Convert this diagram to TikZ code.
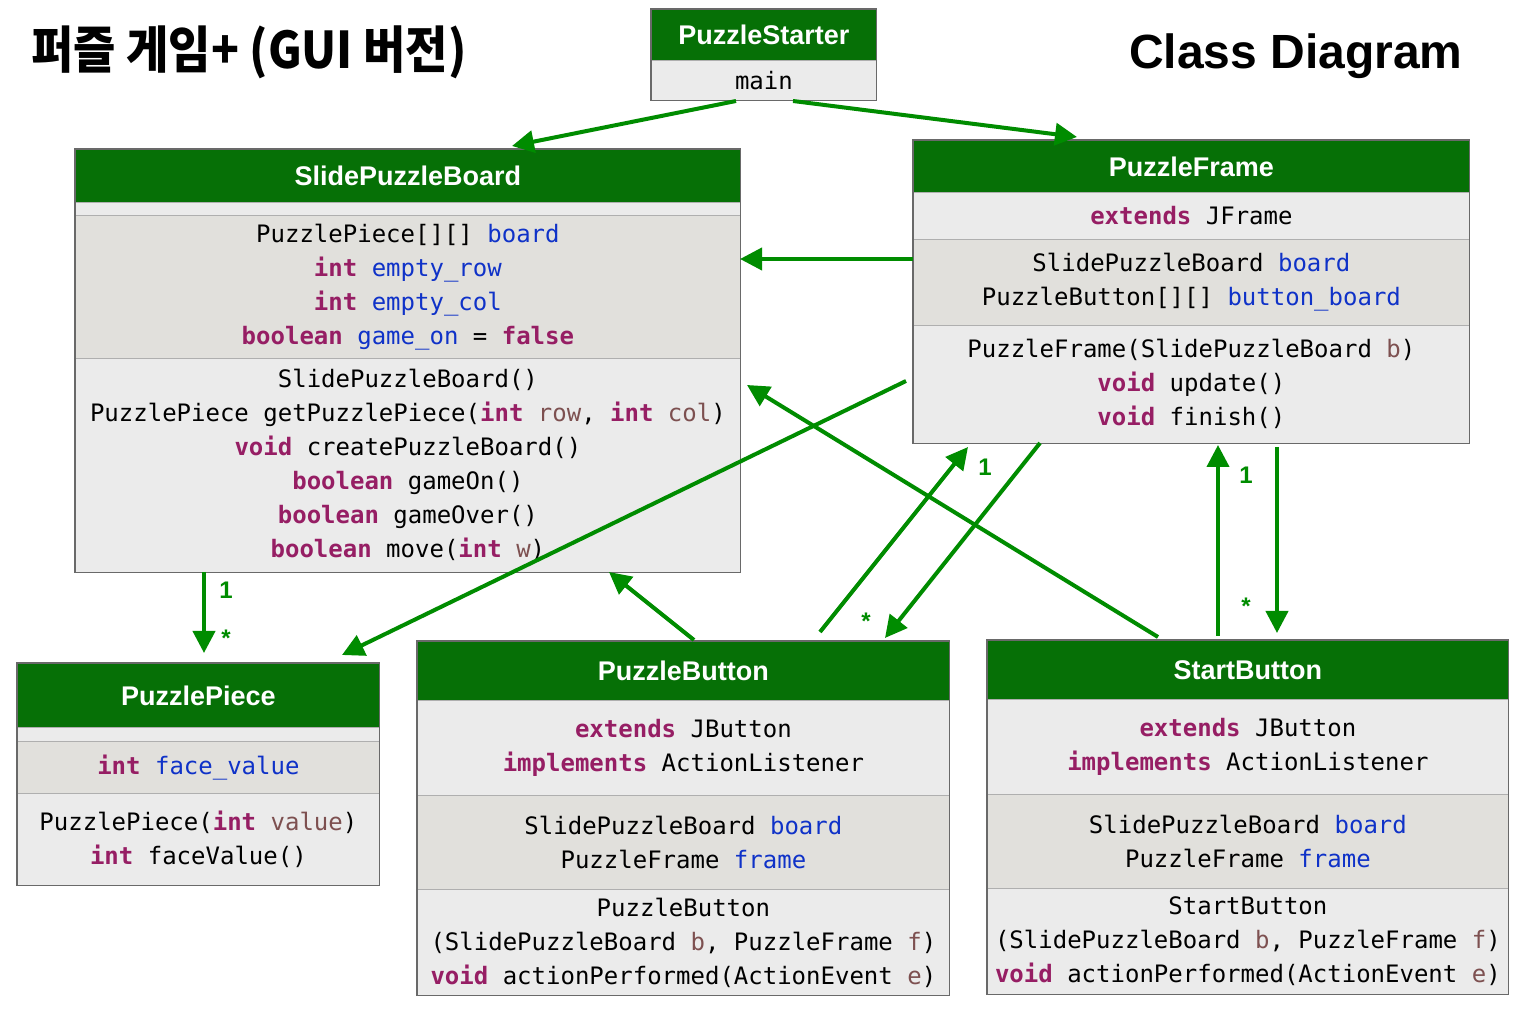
\documentclass[tikz,border=0pt]{standalone}
\usepackage{fontspec}
\setmainfont{Liberation Sans}
\setmonofont{DejaVu Sans Mono}
\newfontfamily\krfont{Noto Sans CJK KR}
\usetikzlibrary{arrows.meta}
\definecolor{hdrgreen}{RGB}{6,112,6}
\definecolor{arrowgreen}{RGB}{0,140,0}
\definecolor{kwcol}{RGB}{150,30,100}
\definecolor{fldcol}{RGB}{15,50,200}
\definecolor{prmcol}{RGB}{125,80,80}
\definecolor{lightsec}{RGB}{235,235,235}
\definecolor{darksec}{RGB}{225,224,220}
\definecolor{sepgray}{RGB}{175,175,175}
\definecolor{boxgray}{RGB}{105,105,105}
\newcommand{\kwd}[1]{\textbf{\color{kwcol}#1}}
\newcommand{\fld}[1]{\textcolor{fldcol}{#1}}
\newcommand{\prm}[1]{\textcolor{prmcol}{#1}}
\newcommand{\us}{\char"5F\relax}
\tikzset{
  dims/.style 2 args={minimum width=#1*0.5pt, minimum height=#2*0.5pt},
  hdr/.style={draw=sepgray, fill=hdrgreen, text=white, inner sep=0pt, anchor=north west,
    font=\fontsize{13.5}{16}\selectfont\bfseries},
  sect/.style={draw=sepgray, fill=lightsec, align=center, inner sep=0pt, anchor=north west,
    font=\fontsize{12}{17}\selectfont\ttfamily},
  fsect/.style={sect, fill=darksec},
  outline/.style={draw=boxgray, line width=0.6pt},
  assoc/.style={draw=arrowgreen, line width=2pt, -{Triangle[length=11pt,width=11pt]}},
  mult/.style={text=arrowgreen, font=\fontsize{12}{14}\selectfont\bfseries},
}

\begin{document}
\begin{tikzpicture}[x=0.5pt, y=-0.5pt]
\useasboundingbox[fill=white] (0,0) rectangle (1522,1010);

% titles
\node[font=\krfont\bfseries\fontsize{23}{27}\selectfont, yscale=1.1] (title) at (249,52) {퍼즐 게임+ (GUI 버전)};
\node[font=\bfseries\fontsize{24}{28}\selectfont] (subtitle) at (1296,56) {Class Diagram};

% PuzzleStarter
\node[hdr, dims={225}{51}] (psH) at (651,9) {PuzzleStarter};
\node[sect, dims={225}{40}] (psM) at (651,60) {main};
\draw[outline] (psH.north west) rectangle (psM.south east);

% SlidePuzzleBoard
\node[hdr, dims={665}{53}] (spbH) at (75,149) {SlidePuzzleBoard};
\node[sect, dims={665}{13}] (spbA) at (75,202) {};
\node[fsect, dims={665}{143}] (spbF) at (75,215) {PuzzlePiece[][] \fld{board}\\
  \kwd{int} \fld{empty\us row}\\
  \kwd{int} \fld{empty\us col}\\
  \kwd{boolean} \fld{game\us on} = \kwd{false}};
\node[sect, dims={665}{214}] (spbM) at (75,358) {SlidePuzzleBoard()\\
  PuzzlePiece getPuzzlePiece(\kwd{int} \prm{row}, \kwd{int} \prm{col})\\
  \kwd{void} createPuzzleBoard()\\
  \kwd{boolean} gameOn()\\
  \kwd{boolean} gameOver()\\
  \kwd{boolean} move(\kwd{int} \prm{w})};
\draw[outline] (spbH.north west) rectangle (spbM.south east);

% PuzzleFrame
\node[hdr, dims={556}{52}] (pfH) at (913,140) {PuzzleFrame};
\node[sect, dims={556}{47}] (pfE) at (913,192) {\kwd{extends} JFrame};
\node[fsect, dims={556}{86}] (pfF) at (913,239) {SlidePuzzleBoard \fld{board}\\
  PuzzleButton[][] \fld{button\us board}};
\node[sect, dims={556}{118}] (pfM) at (913,325) {PuzzleFrame(SlidePuzzleBoard \prm{b})\\
  \kwd{void} update()\\
  \kwd{void} finish()};
\draw[outline] (pfH.north west) rectangle (pfM.south east);

% PuzzlePiece
\node[hdr, dims={362}{64}] (ppH) at (17,663) {PuzzlePiece};
\node[sect, dims={362}{14}] (ppA) at (17,727) {};
\node[fsect, dims={362}{52}] (ppF) at (17,741) {\kwd{int} \fld{face\us value}};
\node[sect, dims={362}{92}] (ppM) at (17,793) {PuzzlePiece(\kwd{int} \prm{value})\\
  \kwd{int} faceValue()};
\draw[outline] (ppH.north west) rectangle (ppM.south east);

% PuzzleButton
\node[hdr, dims={532}{59}] (pbH) at (417,641) {PuzzleButton};
\node[sect, dims={532}{95}] (pbE) at (417,700) {\kwd{extends} JButton\\
  \kwd{implements} ActionListener};
\node[fsect, dims={532}{94}] (pbF) at (417,795) {SlidePuzzleBoard \fld{board}\\
  PuzzleFrame \fld{frame}};
\node[sect, dims={532}{106}] (pbM) at (417,889) {PuzzleButton\\
  (SlidePuzzleBoard \prm{b}, PuzzleFrame \prm{f})\\
  \kwd{void} actionPerformed(ActionEvent \prm{e})};
\draw[outline] (pbH.north west) rectangle (pbM.south east);

% StartButton
\node[hdr, dims={521}{59}] (sbH) at (987,640) {StartButton};
\node[sect, dims={521}{95}] (sbE) at (987,699) {\kwd{extends} JButton\\
  \kwd{implements} ActionListener};
\node[fsect, dims={521}{94}] (sbF) at (987,794) {SlidePuzzleBoard \fld{board}\\
  PuzzleFrame \fld{frame}};
\node[sect, dims={521}{106}] (sbM) at (987,888) {StartButton\\
  (SlidePuzzleBoard \prm{b}, PuzzleFrame \prm{f})\\
  \kwd{void} actionPerformed(ActionEvent \prm{e})};
\draw[outline] (sbH.north west) rectangle (sbM.south east);

% connector ends
\coordinate (psL) at (736,101);
\coordinate (psR) at (793,101);
\coordinate (spbTop) at (512,146);
\coordinate (pfTop) at (1077,137);
\coordinate (pfW) at (913,259);
\coordinate (spbE) at (740,259);
\coordinate (pfSW) at (906,381);
\coordinate (ppTop) at (342,655);
\coordinate (sbTopL) at (1158,637);
\coordinate (spbSE) at (747,385);
\coordinate (pbTopL) at (694,640);
\coordinate (spbBot) at (609,572);
\coordinate (pbTopM) at (820,632);
\coordinate (pfBotL) at (968,447);
\coordinate (pfBotM) at (1040,443);
\coordinate (pbTopR) at (885,638);
\coordinate (sbTopM) at (1218,636);
\coordinate (pfBotR) at (1218,445);
\coordinate (pfBotRR) at (1277,447);
\coordinate (sbTopR) at (1277,633);
\coordinate (spbBotL) at (204,572);
\coordinate (ppTopM) at (204,653);

% associations
\draw[assoc] (psL) -- (spbTop);
\draw[assoc] (psR) -- (pfTop);
\draw[assoc] (pfW) -- (spbE);
\draw[assoc] (pfSW) -- (ppTop);
\draw[assoc] (sbTopL) -- (spbSE);
\draw[assoc] (pbTopL) -- (spbBot);
\draw[assoc] (pbTopM) -- (pfBotL);
\draw[assoc] (pfBotM) -- (pbTopR);
\draw[assoc] (sbTopM) -- (pfBotR);
\draw[assoc] (pfBotRR) -- (sbTopR);
\draw[assoc] (spbBotL) -- (ppTopM);

% multiplicities
\node[mult] (m1) at (985,467) {1};
\node[mult] (m2) at (866,621) {*};
\node[mult] (m3) at (1246,475) {1};
\node[mult] (m4) at (1246,606) {*};
\node[mult] (m5) at (226,590) {1};
\node[mult] (m6) at (226,638) {*};
\end{tikzpicture}
\end{document}
